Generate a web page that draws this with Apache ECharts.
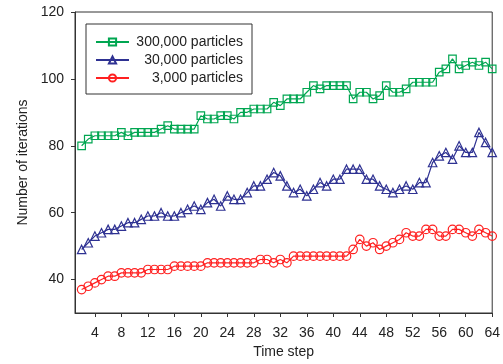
<!DOCTYPE html>
<html>
<head>
<meta charset="utf-8">
<script src="https://cdn.jsdelivr.net/npm/echarts@6/dist/echarts.min.js"></script>
<style>
html,body{margin:0;padding:0;background:#fff;}
#c{width:503px;height:364px;}
</style>
</head>
<body>
<div id="c"></div>
<script>
// Time steps 2..64
const steps = [];
for (let t = 2; t <= 64; t++) steps.push(t);

const names = ['300,000 particles', '30,000 particles', '3,000 particles'];

const s300k = [80,82,83,83,83,83,84,83,84,84,84,84,85,86,85,85,85,85,
  89,88,88,89,89,88,90,90,91,91,91,93,92,
  94,94,94,96,98,97,98,98,98,98,94,96,96,94,95,98,
  96,96,97,99,99,99,99,102,103,106,103,104,105,104,105,103];

const s30k = [49,51,53,54,55,55,56,57,57,58,59,59,60,59,59,60,61,62,61,63,64,62,65,64,64,66,68,68,70,72,
  71,68,66,67,65,67,69,68,70,70,73,73,73,70,70,68,67,66,67,68,67,69,69,75,77,78,76,80,78,78,84,81,78];

const s3k = [37,38,39,40,41,41,42,42,42,42,43,43,43,43,44,44,44,44,44,45,45,45,45,45,45,45,45,46,46,45,46,45,
  47,47,47,47,47,47,47,47,47,49,52,50,51,49,50,51,52,54,53,53,55,55,53,53,55,55,54,53,55,54,53];

const xTicks = [4,8,12,16,20,24,28,32,36,40,44,48,52,56,60,64];
const yTicks = [40,60,80,100,120];

const colors = ['#00a651', '#2e3192', '#ff2020'];
const symbols = ['rect', 'triangle', 'circle'];
const sizes = [7.5, 8.5, 8.5];
const datasets = [s300k, s30k, s3k];

const font = 'Liberation Sans, Arial, sans-serif';

const series = datasets.map((d, i) => ({
  name: names[i],
  type: 'line',
  data: d.map((v, k) => [steps[k], v]),
  symbol: symbols[i],
  symbolSize: sizes[i],
  showAllSymbol: true,
  lineStyle: { color: colors[i], width: 1.2 },
  itemStyle: { color: 'rgba(255,255,255,0)', borderColor: colors[i], borderWidth: 1.2 },
  emphasis: { disabled: true },
  animation: false,
  z: 3 - i
}));

const chart = echarts.init(document.getElementById('c'), null, { renderer: 'canvas' });
chart.setOption({
  animation: false,
  backgroundColor: '#fff',
  grid: {
    left: 75, right: 10, top: 12, bottom: 51,
    show: true, borderColor: '#333', borderWidth: 1, backgroundColor: 'transparent'
  },
  legend: {
    orient: 'vertical',
    left: 86, top: 24,
    padding: [11, 9, 9, 9],
    itemGap: 4,
    itemWidth: 33, itemHeight: 9,
    borderColor: '#333', borderWidth: 1,
    data: names,
    formatter: n => '{a|' + n + '}',
    textStyle: {
      fontFamily: font, fontSize: 14, color: '#222',
      rich: { a: { width: 109, align: 'right', fontFamily: font, fontSize: 14, color: '#222', lineHeight: 16 } }
    }
  },
  xAxis: {
    type: 'value', min: 1, max: 64,
    name: 'Time step', nameLocation: 'middle', nameGap: 31,
    nameTextStyle: { fontFamily: font, fontSize: 14, color: '#222' },
    axisLine: { show: true, lineStyle: { color: '#333', width: 1 } },
    axisTick: { show: true, length: 4, customValues: xTicks, lineStyle: { color: '#333' } },
    axisLabel: { customValues: xTicks, margin: 13, fontFamily: font, fontSize: 14, color: '#222' },
    splitLine: { show: false }
  },
  yAxis: {
    type: 'value', min: 30, max: 120,
    name: 'Number of iterations', nameLocation: 'middle', nameGap: 45,
    nameTextStyle: { fontFamily: font, fontSize: 14, color: '#222' },
    axisLine: { show: true, lineStyle: { color: '#333', width: 1 } },
    axisTick: { show: true, length: 4, customValues: yTicks, lineStyle: { color: '#333' } },
    axisLabel: { customValues: yTicks, margin: 11, fontFamily: font, fontSize: 14, color: '#222' },
    splitLine: { show: false }
  },
  series: series
});
</script>
</body>
</html>
